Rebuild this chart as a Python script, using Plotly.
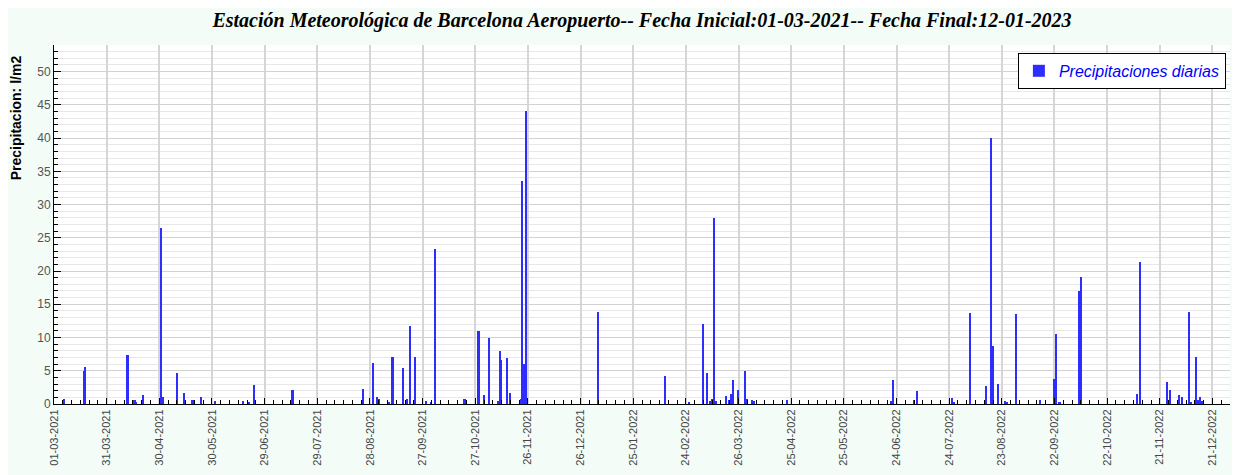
import plotly.graph_objects as go

# precipitacion diaria (l/m2), Barcelona Aeropuerto
fechas = [
    "2021-03-07", "2021-03-18", "2021-03-19", "2021-04-12", "2021-04-16", "2021-04-17",
    "2021-04-21", "2021-05-01", "2021-05-02", "2021-05-10", "2021-05-14", "2021-05-19",
    "2021-05-20", "2021-05-24", "2021-06-01", "2021-06-17", "2021-06-20", "2021-06-23",
    "2021-07-15", "2021-08-24", "2021-08-30", "2021-09-01", "2021-09-02", "2021-09-08",
    "2021-09-10", "2021-09-16", "2021-09-18", "2021-09-20", "2021-09-23", "2021-09-29",
    "2021-10-02", "2021-10-04", "2021-10-21", "2021-10-29", "2021-11-01", "2021-11-04",
    "2021-11-09", "2021-11-10", "2021-11-11", "2021-11-14", "2021-11-16", "2021-11-22",
    "2021-11-23", "2021-11-24", "2021-11-25", "2022-01-05", "2022-02-12", "2022-02-26",
    "2022-03-06", "2022-03-08", "2022-03-10", "2022-03-11", "2022-03-12", "2022-03-13",
    "2022-03-19", "2022-03-21", "2022-03-22", "2022-03-23", "2022-03-26", "2022-03-30",
    "2022-03-31", "2022-04-03", "2022-04-04", "2022-04-23", "2022-06-21", "2022-06-22",
    "2022-07-04", "2022-07-06", "2022-07-26", "2022-07-27", "2022-08-05", "2022-08-14",
    "2022-08-17", "2022-08-18", "2022-08-21", "2022-08-25", "2022-08-26", "2022-08-31",
    "2022-09-14", "2022-09-22", "2022-09-23", "2022-09-25", "2022-10-06", "2022-10-07",
    "2022-11-08", "2022-11-10", "2022-11-25", "2022-11-27", "2022-12-02", "2022-12-04",
    "2022-12-08", "2022-12-09", "2022-12-12", "2022-12-13", "2022-12-14", "2022-12-15",
    "2022-12-16",
]
precip = [
    0.8, 4.9, 5.6, 7.3, 0.6, 0.2,
    1.4, 26.5, 1.1, 4.6, 1.7, 0.6,
    0.6, 1.1, 0.4, 0.4, 0.3, 2.9,
    2.1, 2.3, 6.2, 1.1, 0.8, 0.2,
    7.1, 5.4, 0.8, 11.8, 7.1, 0.4,
    0.2, 23.3, 0.8, 11.0, 1.4, 10.0,
    0.5, 7.9, 6.6, 6.9, 1.7, 0.8,
    33.5, 6.0, 44.0, 13.9, 4.2, 0.2,
    12.1, 4.6, 0.5, 0.8, 28.0, 0.4,
    1.2, 0.6, 1.5, 3.6, 2.1, 4.9,
    0.7, 0.6, 0.4, 0.6, 0.4, 3.6,
    0.6, 1.9, 0.9, 0.3, 13.7, 2.7,
    40.0, 8.7, 3.0, 0.4, 0.2, 13.5,
    0.6, 3.7, 10.6, 0.2, 17.0, 19.1,
    1.5, 21.4, 3.3, 2.1, 1.3, 1.1,
    13.9, 0.2, 7.1, 0.6, 1.1, 0.4,
    0.4,
]

DAY = 86400000
titulo = ("Estación Meteorológica de Barcelona Aeropuerto-- "
          "Fecha Inicial:01-03-2021-- Fecha Final:12-01-2023")

fig = go.Figure()
fig.add_trace(go.Bar(
    x=fechas, y=precip,
    name="Precipitaciones diarias",
    width=DAY * 0.9,
    marker=dict(color="rgb(45,45,255)", line=dict(width=0)),
))

# the page body adds an 8px margin, so the figure is 8px smaller
fig.update_layout(
    width=1232, height=467,
    margin=dict(l=46, r=10, t=37, b=71),
    paper_bgcolor="#f3fcf7",
    plot_bgcolor="white",
    title=dict(text=titulo, xref="paper", x=0.5, xanchor="center", y=0.974, yanchor="middle",
               font=dict(family="Liberation Serif", size=20, color="black",
                         weight="bold", style="italic")),
    showlegend=True,
    legend=dict(x=0.9965, y=0.978, xanchor="right", yanchor="top",
                bgcolor="white", bordercolor="black", borderwidth=1,
                font=dict(family="Liberation Sans", size=16, color="blue", style="italic")),
    bargap=0,
)

fig.update_xaxes(
    type="date",
    range=["2021-03-01", "2022-12-31"],
    tick0="2021-03-01", dtick=30 * DAY, tickformat="%d-%m-%Y",
    tickangle=-90,
    ticks="inside", ticklen=6, tickcolor="black", tickwidth=1,
    tickfont=dict(family="Liberation Sans", size=11, color="#444"),
    showline=True, linecolor="black", linewidth=1,
    showgrid=True, gridcolor="#d6d6d6", gridwidth=1.5,
    minor=dict(tick0="2021-03-01", dtick=5 * DAY, ticks="inside", ticklen=4,
               tickcolor="black", showgrid=False),
    zeroline=False,
)
fig.update_yaxes(
    range=[0, 54],
    tick0=0, dtick=5,
    ticks="inside", ticklen=7, tickcolor="black", tickwidth=1,
    tickfont=dict(family="Liberation Sans", size=12, color="#555"),
    showline=True, linecolor="black", linewidth=1,
    showgrid=True, gridcolor="#d2d2d2", gridwidth=1,
    minor=dict(dtick=1, ticks="inside", ticklen=4, tickcolor="black",
               showgrid=True, gridcolor="#e8e8e8", gridwidth=1),
    zeroline=False,
)

fig.add_annotation(
    text="Precipitacion: l/m2", textangle=-90,
    xref="paper", yref="paper", x=-0.0325, y=0.798,
    xanchor="center", yanchor="middle", showarrow=False,
    font=dict(family="Liberation Sans", size=14, color="black", weight="bold"),
)

fig.write_html("out.html")
